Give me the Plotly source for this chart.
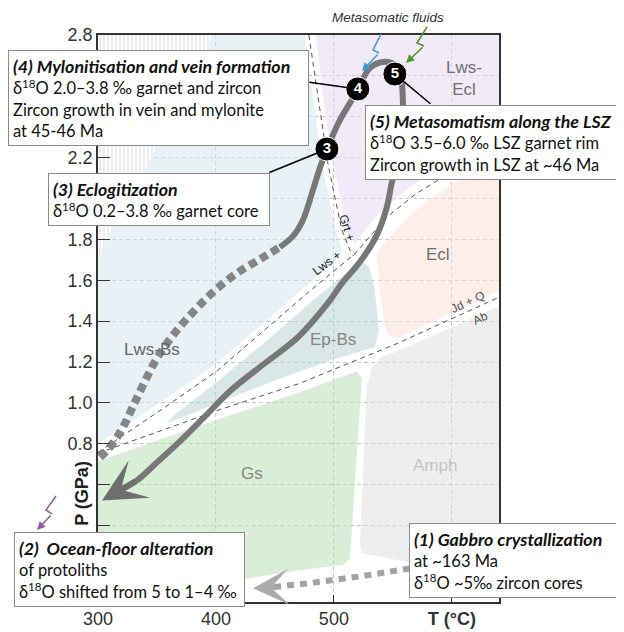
import plotly.graph_objects as go

# ---------------- axes ----------------
X_TICKS = [300, 400, 500, 600]
X_TICKTEXT = ["300", "400", "500", "<b>T (°C)</b>"]
Y_TICKS = [0.4, 0.6, 0.8, 1.0, 1.2, 1.4, 1.6, 1.8, 2.0, 2.2, 2.4, 2.6, 2.8]
Y_TICKTEXT = ["", "", "0.8", "1.0", "1.2", "1.4", "1.6", "1.8", "2.0", "2.2", "2.4", "2.6", "2.8"]

# ---------------- facies fields (T in °C, P in GPa) ----------------
hatch_T = [300, 397.5, 373.7, 344.1, 315.3, 300, 300]
hatch_P = [2.8, 2.8, 2.531, 2.188, 1.894, 1.713, 2.8]

lwsbs_T = [397.5, 475.4, 482.2, 489.8, 495.8, 501.7, 506.8, 503.4, 480.5, 441.5, 401.7, 356.8, 300, 300, 315.3, 344.1, 373.7, 397.5]
lwsbs_P = [2.8, 2.8, 2.496, 2.173, 2.007, 1.845, 1.747, 1.708, 1.591, 1.395, 1.199, 1.018, 0.798, 1.713, 1.894, 2.188, 2.531, 2.8]

lwsecl_T = [484.7, 640, 640, 589.8, 564.4, 539.0, 522.0, 517.8, 511.0, 505.1, 499.2, 490.7, 484.7]
lwsecl_P = [2.8, 2.8, 2.286, 2.149, 2.056, 1.933, 1.816, 1.777, 1.845, 2.007, 2.173, 2.496, 2.8]

epbs_T = [357.6, 365.3, 401.7, 441.5, 480.5, 515.3, 523.7, 529.7, 534.7, 538.1, 534.7, 497.5, 441.5, 401.7, 369.5, 357.6]
epbs_P = [0.900, 0.944, 1.106, 1.297, 1.493, 1.659, 1.689, 1.669, 1.552, 1.356, 1.272, 1.209, 1.091, 0.998, 0.925, 0.900]

gs_T = [300, 401.7, 471.2, 509.3, 519.5, 523.7, 518.6, 513.6, 508.5, 471.2, 386.4, 300, 300]
gs_P = [0.714, 0.920, 1.052, 1.135, 1.155, 1.121, 0.670, 0.239, 0.210, 0.181, 0.107, 0.034, 0.714]

amph_T = [532.2, 539.0, 554.2, 598.3, 640, 640, 564.4, 523.7, 522.0, 527.9, 532.2]
amph_P = [1.170, 1.224, 1.253, 1.365, 1.473, 0.200, 0.220, 0.264, 0.303, 1.086, 1.170]

ecl_T = [536.4, 540.7, 558.5, 579.7, 600, 640, 640, 555.9, 546.6, 543.2, 539.0, 536.4]
ecl_P = [1.723, 1.767, 1.884, 1.992, 2.071, 2.188, 1.547, 1.321, 1.326, 1.375, 1.552, 1.723]

# ---------------- reaction lines ----------------
lws_T = [300, 356.8, 401.7, 441.5, 480.5, 517.5, 544.9, 570.3, 594.1, 640]
lws_P = [0.758, 0.979, 1.160, 1.356, 1.552, 1.728, 1.909, 2.026, 2.110, 2.237]
grt_T = [478.8, 486.4, 494.9, 500.8, 506.8, 513.6, 516.9]
grt_P = [2.8, 2.496, 2.173, 2.007, 1.845, 1.747, 1.718]
jdq_T = [300, 401.7, 471.2, 554.2, 640]
jdq_P = [0.754, 0.964, 1.096, 1.292, 1.517]

# ---------------- P-T path ----------------
pro_T = [301.7, 308.5, 316.1, 322.9, 329.7, 338.1, 350.0, 363.6, 379.7, 397.5, 417.8, 437.3, 454.2]
pro_P = [0.734, 0.773, 0.832, 0.900, 0.984, 1.086, 1.219, 1.331, 1.439, 1.542, 1.635, 1.703, 1.762]

ret_T = [454.2, 465.3, 473.7, 482.2, 488.1, 494.1, 505.1, 513.6, 520.3, 530.5, 541.5, 551.7, 556.8, 558.5,
         557.6, 554.2, 549.2, 544.9, 536.4, 522.0, 507.6, 494.9, 469.5, 441.5, 412.7, 393.2, 370.3, 350.0, 333.1, 318.6]
ret_P = [1.762, 1.816, 1.894, 2.041, 2.149, 2.242, 2.384, 2.467, 2.536, 2.638, 2.668, 2.653, 2.589, 2.482,
         2.335, 2.188, 2.080, 1.958, 1.821, 1.689, 1.591, 1.488, 1.321, 1.194, 1.062, 0.949, 0.817, 0.709, 0.621, 0.572]
ret_tip = (303.4, 0.523)
ret_tail = (333.1, 0.621)

gab_T = [564.4, 555.9, 522.0, 477.1, 445.8]
gab_P = [0.190, 0.181, 0.151, 0.117, 0.097]
gab_tip = (431.4, 0.093)
gab_tail = (452.0, 0.098)

stage_T = [494.1, 520.3, 551.7]
stage_P = [2.242, 2.536, 2.609]
stage_lbl = ["3", "4", "5"]

# ---------------- field labels ----------------
field_lbl = ["Lws-Bs", "Ep-Bs", "Gs", "Amph", "Ecl", "Lws-<br>Ecl"]
field_T = [345.8, 499.2, 430.5, 585.6, 588.1, 610.0]
field_P = [1.263, 1.312, 0.656, 0.695, 1.728, 2.589]
field_col = ["#666666", "#858585", "#858585", "#c4c4c4", "#707070", "#707070"]

line_lbl = ["Lws +", "Grt +", "Jd + Q", "Ab"]
line_lbl_T = [494.1, 511.0, 613.6, 624.6]
line_lbl_P = [1.684, 1.855, 1.493, 1.414]
line_lbl_ang = [-37, 72, -25, -25]
line_lbl_col = ["#222222", "#222222", "#555555", "#555555"]

# ---------------- text boxes ----------------
HEAD = '<span style="font-size:17.8px"><b><i>%s</i></b></span>'
box_text = [
    HEAD % "(4) Mylonitisation and vein formation" + "<br>δ<sup>18</sup>O 2.0–3.8 ‰ garnet and zircon<br>Zircon growth in vein and mylonite<br>at 45-46 Ma",
    HEAD % "(3) Eclogitization" + "<br>δ<sup>18</sup>O 0.2–3.8 ‰ garnet core",
    HEAD % "(5) Metasomatism along the LSZ" + "<br>δ<sup>18</sup>O 3.5–6.0 ‰ LSZ garnet rim<br>Zircon growth in LSZ at ~46 Ma",
    HEAD % "(2)\u00a0 Ocean-floor alteration" + "<br>of protoliths<br>δ<sup>18</sup>O shifted from 5 to 1–4 ‰",
    HEAD % "(1) Gabbro crystallization" + "<br>at ~163 Ma<br>δ<sup>18</sup>O ~5‰ zircon cores",
]
box_x = [-0.2244, -0.1247, 0.6658, -0.2095, 0.7756]
box_y = [0.9735, 0.7566, 0.8765, 0.1235, 0.1393]
box_w = [291, 212, 249, 221, 199]

# leader lines from stage markers to boxes (pixel offsets)
leader_dx = [-59, -50, 37]
leader_dy = [24, -7, 31]

# fluid arrows (paper coordinates)
blue_x = [0.7057, 0.6858, 0.7007]
blue_y = [1.0018, 0.9735, 0.9683]
blue_tip = (0.6584, 0.9365)
green_x = [0.8204, 0.7955, 0.8130]
green_y = [1.0141, 0.9859, 0.9806]
green_tip = (0.7681, 0.9506)
purple_x = [-0.1047, -0.1297, -0.1147]
purple_y = [0.1869, 0.1623, 0.1552]
purple_tip = (-0.1521, 0.1270)

PW, PH = 401, 567
PAGE_OFFSET = 8  # default body margin of the html page

fig = go.Figure()

# hatch
fig.add_trace(go.Scatter(x=hatch_T, y=hatch_P, mode="lines", fill="toself", line=dict(width=0),
                         fillcolor="white",
                         fillpattern=dict(shape="|", size=4, solidity=0.25, fgcolor="#b8b8b8", bgcolor="white"),
                         hoverinfo="skip", showlegend=False))

fields = [
    (lwsbs_T, lwsbs_P, "rgba(210,230,237,0.52)"),
    (lwsecl_T, lwsecl_P, "rgba(226,214,243,0.52)"),
    (epbs_T, epbs_P, "rgba(180,207,207,0.50)"),
    (gs_T, gs_P, "rgba(178,221,174,0.50)"),
    (amph_T, amph_P, "rgba(222,222,222,0.50)"),
    (ecl_T, ecl_P, "rgba(251,222,210,0.50)"),
]
for fx, fy, fc in fields:
    fig.add_trace(go.Scatter(x=fx, y=fy, mode="lines", fill="toself", fillcolor=fc,
                             line=dict(width=0), hoverinfo="skip", showlegend=False))

for lx, ly in [(lws_T, lws_P), (grt_T, grt_P), (jdq_T, jdq_P)]:
    fig.add_trace(go.Scatter(x=lx, y=ly, mode="lines", line=dict(color="#555555", width=1, dash="5px,4px"),
                             hoverinfo="skip", showlegend=False))

# gabbro -> ocean floor dotted path
fig.add_trace(go.Scatter(x=gab_T, y=gab_P, mode="lines", line=dict(color="#a3a3a3", width=6, dash="7px,6px"),
                         hoverinfo="skip", showlegend=False))
# prograde dotted path
fig.add_trace(go.Scatter(x=pro_T, y=pro_P, mode="lines", line=dict(color="#858585", width=8, dash="8px,5px"),
                         line_shape="spline", hoverinfo="skip", showlegend=False))
# solid path
fig.add_trace(go.Scatter(x=ret_T, y=ret_P, mode="lines", line=dict(color="#777777", width=6),
                         line_shape="spline", hoverinfo="skip", showlegend=False))
# stage markers
fig.add_trace(go.Scatter(x=stage_T, y=stage_P, mode="markers+text",
                         marker=dict(size=24, color="black", line=dict(color="white", width=1)),
                         text=["<b>%s</b>" % s for s in stage_lbl], textposition="middle center",
                         textfont=dict(color="white", size=15, family="Liberation Sans"),
                         hoverinfo="skip", showlegend=False))

ann = []
for t, x, y, c in zip(field_lbl, field_T, field_P, field_col):
    ann.append(dict(x=x, y=y, xref="x", yref="y", text=t, showarrow=False,
                    font=dict(family="Liberation Sans", size=17, color=c)))
for t, x, y, a, c in zip(line_lbl, line_lbl_T, line_lbl_P, line_lbl_ang, line_lbl_col):
    ann.append(dict(x=x, y=y, xref="x", yref="y", text=t, showarrow=False, textangle=a,
                    font=dict(family="Liberation Sans", size=12, color=c)))

# arrow heads of paths
ann.append(dict(x=ret_tip[0], y=ret_tip[1], ax=ret_tail[0], ay=ret_tail[1], xref="x", yref="y",
                axref="x", ayref="y", text="", showarrow=True, arrowhead=3, arrowsize=1.2,
                arrowwidth=6, arrowcolor="#6e6e6e"))
ann.append(dict(x=gab_tip[0], y=gab_tip[1], ax=gab_tail[0], ay=gab_tail[1], xref="x", yref="y",
                axref="x", ayref="y", text="", showarrow=True, arrowhead=3, arrowsize=1.2,
                arrowwidth=5, arrowcolor="#ababab"))

# leader lines
for x, y, dx, dy in zip(stage_T, stage_P, leader_dx, leader_dy):
    ann.append(dict(x=x, y=y, xref="x", yref="y", ax=dx, ay=dy, text="", showarrow=True,
                    arrowhead=0, arrowwidth=1.5, arrowcolor="black", standoff=11))

# text boxes
for t, x, y, w in zip(box_text, box_x, box_y, box_w):
    ann.append(dict(x=x, y=y, xref="paper", yref="paper", xanchor="left", yanchor="top",
                    text=t, showarrow=False, align="left", width=w,
                    bgcolor="white", bordercolor="#8a8a8a", borderwidth=1, borderpad=4,
                    font=dict(family="Lato", size=16.5, color="#111111")))

# P axis label
ann.append(dict(x=-0.04, y=0.56, xref="paper", yref="y", xanchor="center", yanchor="middle",
                text="<b>P (GPa)</b>", showarrow=False,
                textangle=-90, font=dict(family="Liberation Sans", size=18, color="#222222")))
# Metasomatic fluids
ann.append(dict(x=0.723, y=1.030, xref="paper", yref="paper", xanchor="center", yanchor="middle",
                text="<i>Metasomatic fluids</i>",
                showarrow=False, font=dict(family="Liberation Sans", size=13.5, color="#333333")))

shapes = []
for (px_, py_, tip, col) in [(blue_x, blue_y, blue_tip, "#3b9ad8"), (green_x, green_y, green_tip, "#4c9a22"),
                             (purple_x, purple_y, purple_tip, "#8f5aa8")]:
    path = "M %f,%f" % (px_[0], py_[0]) + "".join(" L %f,%f" % (a, b) for a, b in zip(px_[1:], py_[1:]))
    shapes.append(dict(type="path", path=path, xref="paper", yref="paper",
                       line=dict(color=col, width=1.5), layer="above"))
    ann.append(dict(x=tip[0], y=tip[1], xref="paper", yref="paper",
                    ax=(px_[-1] - tip[0]) * PW, ay=-(py_[-1] - tip[1]) * PH,
                    text="", showarrow=True, arrowhead=2, arrowsize=1.1, arrowwidth=1.5, arrowcolor=col))

fig.update_layout(
    width=624 - PAGE_OFFSET, height=632 - PAGE_OFFSET,
    margin=dict(l=98 - PAGE_OFFSET, r=125, t=35 - PAGE_OFFSET, b=30, autoexpand=False),
    paper_bgcolor="white", plot_bgcolor="white",
    showlegend=False,
    annotations=ann, shapes=shapes,
    xaxis=dict(range=[300, 640], tickvals=X_TICKS, ticktext=X_TICKTEXT, ticks="inside", ticklen=7,
               tickcolor="#333", showline=True, linecolor="#333", linewidth=1.5, mirror=True,
               showgrid=True, gridcolor="#c9c9c9", griddash="4px,3px", gridwidth=1, zeroline=False,
               tickfont=dict(family="Liberation Sans", size=18, color="#333")),
    yaxis=dict(range=[0.026, 2.8], tickvals=Y_TICKS, ticktext=Y_TICKTEXT, ticks="inside", ticklen=12,
               tickcolor="#333", showline=True, linecolor="#333", linewidth=1.5, mirror=True,
               showgrid=True, gridcolor="#c9c9c9", griddash="4px,3px", gridwidth=1, zeroline=False,
               tickfont=dict(family="Liberation Sans", size=18, color="#333")),
)

fig.write_html("out.html")
